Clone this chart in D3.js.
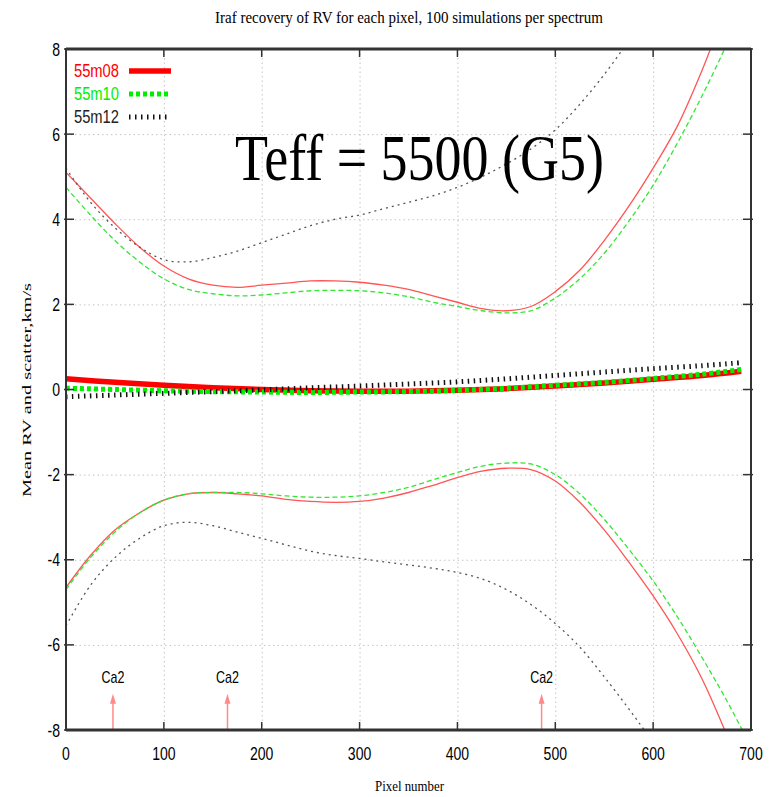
<!DOCTYPE html>
<html>
<head>
<meta charset="utf-8">
<script src="https://cdn.jsdelivr.net/npm/d3@7"></script>
<style>
  body { margin: 0; background: #fff; }
  svg { display: block; }
</style>
</head>
<body>
<div id="chart"></div>
<script>
// values
var xTicks = [0, 100, 200, 300, 400, 500, 600, 700];
var yTicks = [-8, -6, -4, -2, 0, 2, 4, 6, 8];

var px = [0, 25, 50, 75, 100, 125, 150, 175, 200, 225, 250, 275, 300, 325, 350,
          375, 400, 425, 450, 475, 500, 525, 550, 575, 600, 625, 650, 675, 700];

// mean RV
var meanPx = [0, 50, 100, 150, 200, 250, 300, 350, 400, 450, 500, 550, 600, 650, 690];
var mean08 = [0.25, 0.17, 0.10, 0.04, 0.00, -0.03, -0.04, -0.04, -0.02, 0.02, 0.08, 0.15, 0.24, 0.33, 0.43];
var mean10 = [0.03, 0.00, -0.03, -0.05, -0.06, -0.07, -0.06, -0.05, -0.02, 0.03, 0.10, 0.17, 0.26, 0.36, 0.47];
var mean12 = [-0.17, -0.13, -0.09, -0.05, -0.01, 0.04, 0.08, 0.13, 0.18, 0.25, 0.33, 0.41, 0.49, 0.56, 0.63];

// upper / lower scatter envelopes
var up08 = [5.1, 4.5, 3.9, 3.35, 2.9, 2.6, 2.45, 2.4, 2.45, 2.5, 2.55, 2.55, 2.52, 2.45, 2.35,
            2.2, 2.05, 1.9, 1.85, 1.95, 2.3, 2.8, 3.5, 4.3, 5.2, 6.2, 7.5, 9.0, 10.5];
var up10 = [4.75, 4.1, 3.5, 3.0, 2.6, 2.35, 2.25, 2.2, 2.22, 2.27, 2.32, 2.33, 2.32, 2.27, 2.18,
            2.05, 1.95, 1.85, 1.8, 1.85, 2.15, 2.6, 3.2, 3.95, 4.8, 5.8, 6.9, 8.1, 9.4];
var up12 = [5.2, 4.4, 3.8, 3.35, 3.05, 3.0, 3.1, 3.25, 3.45, 3.65, 3.85, 4.0, 4.1, 4.25, 4.4,
            4.55, 4.75, 5.0, 5.3, 5.65, 6.1, 6.7, 7.4, 8.2, 9.1, 10.0, 11.0, 12.0, 13.0];
var lo08 = [-4.65, -3.9, -3.3, -2.9, -2.6, -2.45, -2.42, -2.45, -2.5, -2.58, -2.63, -2.65, -2.63, -2.55, -2.42,
            -2.25, -2.07, -1.92, -1.85, -1.88, -2.15, -2.65, -3.3, -4.05, -4.85, -5.75, -6.8, -8.1, -9.5];
var lo10 = [-4.7, -3.95, -3.35, -2.9, -2.6, -2.45, -2.42, -2.42, -2.45, -2.5, -2.53, -2.53, -2.5, -2.42, -2.3,
            -2.12, -1.95, -1.8, -1.73, -1.75, -2.0, -2.45, -3.05, -3.75, -4.5, -5.35, -6.3, -7.3, -8.4];
var lo12 = [-5.55, -4.6, -3.95, -3.5, -3.2, -3.12, -3.2, -3.35, -3.5, -3.65, -3.8, -3.9, -3.97, -4.05, -4.12,
            -4.2, -4.3, -4.45, -4.7, -5.05, -5.5, -6.05, -6.75, -7.5, -8.3, -9.2, -10.1, -11.0, -12.0];

var lines = ["Ca2", "Ca2", "Ca2"];
var linePx = [48, 165, 486];
var lineTop = -7.15;

var series = ["55m08", "55m10", "55m12"];

// layout
var W = 780, H = 797;
var L = 66, R = 751, T = 49, B = 730;

var svg = d3.select("#chart").append("svg")
    .attr("width", W)
    .attr("height", H);

var x = d3.scaleLinear().domain([0, 700]).range([L, R]);
var y = d3.scaleLinear().domain([-8, 8]).range([B, T]);

svg.append("defs").append("clipPath").attr("id", "clip")
    .append("rect").attr("x", L).attr("y", T).attr("width", R - L).attr("height", B - T);

// grid
svg.append("g")
    .attr("transform", "translate(0," + B + ")")
    .call(d3.axisBottom(x).tickValues(xTicks.slice(1, -1)).tickSize(-(B - T)).tickFormat(""))
    .call(g => g.select(".domain").remove())
    .selectAll("line").attr("stroke", "#c4c4c4").attr("stroke-dasharray", "1.5,3");
svg.append("g")
    .attr("transform", "translate(" + L + ",0)")
    .call(d3.axisLeft(y).tickValues(yTicks.slice(1, -1)).tickSize(-(R - L)).tickFormat(""))
    .call(g => g.select(".domain").remove())
    .selectAll("line").attr("stroke", "#c4c4c4").attr("stroke-dasharray", "1.5,3");

// Ca2 markers
var mk = svg.append("g");
linePx.forEach(function (p, i) {
    mk.append("line")
        .attr("x1", x(p)).attr("x2", x(p))
        .attr("y1", y(-8)).attr("y2", y(lineTop) + 4)
        .attr("stroke", "#ff8a8a").attr("stroke-width", 1.5);
    mk.append("path")
        .attr("d", "M" + x(p) + "," + y(lineTop) + " l-3,10 l6,0 z")
        .attr("fill", "#ff8a8a");
    mk.append("text")
        .attr("transform", "translate(" + x(p) + "," + (y(lineTop) - 11) + ") scale(0.78,1)")
        .attr("text-anchor", "middle")
        .style("font-family", "Liberation Sans, Arial, sans-serif")
        .style("font-size", "16px")
        .text(lines[i]);
});

var plot = svg.append("g").attr("clip-path", "url(#clip)");
var line = d3.line()
    .x(function (d) { return x(d[0]); })
    .y(function (d) { return y(d[1]); })
    .curve(d3.curveCatmullRom);

function pairs(xs, ys) { return xs.map(function (v, i) { return [v, ys[i]]; }); }

// scatter envelopes
var envStyle = [
    {c: "#ff5555", w: 1.3, dash: null},
    {c: "#33e633", w: 1.3, dash: "5,3"},
    {c: "#555", w: 1.3, dash: "2,4"}
];
[[up08, lo08], [up10, lo10], [up12, lo12]].forEach(function (s, i) {
    s.forEach(function (vals) {
        plot.append("path")
            .attr("d", line(pairs(px, vals)))
            .attr("fill", "none")
            .attr("stroke", envStyle[i].c)
            .attr("stroke-width", envStyle[i].w)
            .attr("stroke-dasharray", envStyle[i].dash);
    });
});

// means
var meanStyle = [
    {c: "#ff0000", w: 5.5, dash: null},
    {c: "#00ee00", w: 5, dash: "4,3"},
    {c: "#111", w: 5, dash: "1.5,4.5"}
];
[mean08, mean10, mean12].forEach(function (vals, i) {
    plot.append("path")
        .attr("d", line(pairs(meanPx, vals)))
        .attr("fill", "none")
        .attr("stroke", meanStyle[i].c)
        .attr("stroke-width", meanStyle[i].w)
        .attr("stroke-dasharray", meanStyle[i].dash);
});

// frame and ticks
var tickFont = "Liberation Sans, Arial, sans-serif";
var ax = svg.append("g");
xTicks.forEach(function (t) {
    ax.append("line").attr("x1", x(t)).attr("x2", x(t)).attr("y1", B).attr("y2", B - 8)
        .attr("stroke", "#333").attr("stroke-width", 1.5);
    ax.append("line").attr("x1", x(t)).attr("x2", x(t)).attr("y1", T).attr("y2", T + 8)
        .attr("stroke", "#333").attr("stroke-width", 1.5);
    ax.append("text")
        .attr("transform", "translate(" + x(t) + "," + (B + 30) + ") scale(0.78,1)")
        .attr("text-anchor", "middle")
        .style("font-family", tickFont).style("font-size", "18px")
        .text(t);
});
yTicks.forEach(function (t) {
    ax.append("line").attr("x1", L - 2).attr("x2", L + 8).attr("y1", y(t)).attr("y2", y(t))
        .attr("stroke", "#333").attr("stroke-width", 1.5);
    ax.append("line").attr("x1", R - 8).attr("x2", R + 2).attr("y1", y(t)).attr("y2", y(t))
        .attr("stroke", "#333").attr("stroke-width", 1.5);
    ax.append("text")
        .attr("transform", "translate(" + (L - 6) + "," + (y(t) + 6.5) + ") scale(0.78,1)")
        .attr("text-anchor", "end")
        .style("font-family", tickFont).style("font-size", "18px")
        .text(t);
});
ax.append("rect")
    .attr("x", L).attr("y", T).attr("width", R - L).attr("height", B - T)
    .attr("fill", "none").attr("stroke", "#333").attr("stroke-width", 2);
ax.append("line").attr("x1", L).attr("x2", R).attr("y1", T).attr("y2", T)
    .attr("stroke", "#333").attr("stroke-width", 3);
ax.append("line").attr("x1", L).attr("x2", R).attr("y1", B).attr("y2", B)
    .attr("stroke", "#333").attr("stroke-width", 3);

// legend
var legColors = ["#ff0000", "#00ee00", "#111"];
series.forEach(function (s, i) {
    var ly = 71 + i * 23;
    svg.append("text")
        .attr("x", 74).attr("y", ly + 6)
        .attr("textLength", 45).attr("lengthAdjust", "spacingAndGlyphs")
        .style("font-family", tickFont).style("font-size", "18px")
        .attr("fill", i == 2 ? "#222" : legColors[i])
        .text(s);
    svg.append("line")
        .attr("x1", 129).attr("x2", i == 2 ? 168 : 171).attr("y1", ly).attr("y2", ly)
        .attr("stroke", legColors[i])
        .attr("stroke-width", meanStyle[i].w)
        .attr("stroke-dasharray", meanStyle[i].dash);
});

// titles
var serif = "Liberation Serif, Times New Roman, serif";
svg.append("text")
    .attr("x", 215).attr("y", 23)
    .attr("textLength", 388).attr("lengthAdjust", "spacingAndGlyphs")
    .style("font-family", serif).style("font-size", "16px")
    .text("Iraf recovery of RV for each pixel, 100 simulations per spectrum");
svg.append("text")
    .attr("x", 375).attr("y", 791)
    .attr("textLength", 69).attr("lengthAdjust", "spacingAndGlyphs")
    .style("font-family", serif).style("font-size", "14px")
    .text("Pixel number");
svg.append("text")
    .attr("transform", "translate(31,497) rotate(-90)")
    .attr("textLength", 214).attr("lengthAdjust", "spacingAndGlyphs")
    .style("font-family", serif).style("font-size", "13px")
    .text("Mean RV and scatter,km/s");
svg.append("text")
    .attr("x", 235).attr("y", 180)
    .attr("textLength", 369).attr("lengthAdjust", "spacingAndGlyphs")
    .style("font-family", serif).style("font-size", "66px")
    .text("Teff = 5500 (G5)");
</script>
</body>
</html>
